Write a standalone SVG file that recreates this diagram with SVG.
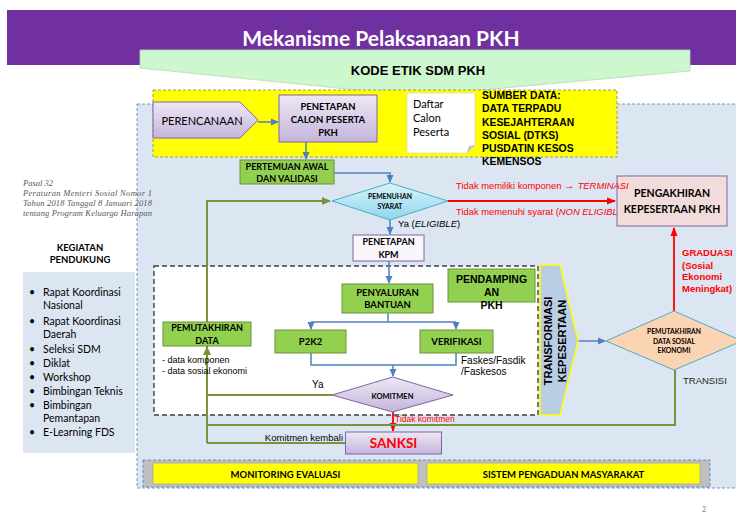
<svg xmlns="http://www.w3.org/2000/svg" width="736" height="515" viewBox="0 0 736 515">
<style>
.c{font-family:Lato,"Open Sans",sans-serif}
.a{font-family:"Liberation Sans",Arial,sans-serif}
.s{font-family:"Liberation Serif","Times New Roman",serif}
.b{font-weight:bold}
.m{text-anchor:middle}
.gbox{fill:#92d050;stroke:#6f8f3a;stroke-width:1}
.lav{fill:url(#lav);stroke:#8064a2;stroke-width:1}
.blue{fill:none;stroke:#4f81bd;stroke-width:1.5}
.grn{fill:none;stroke:#77933c;stroke-width:2}
.red{fill:none;stroke:#ff0000;stroke-width:1.8}
</style>
<defs>
<linearGradient id="lav" x1="0" y1="0" x2="0" y2="1"><stop offset="0" stop-color="#eee8f5"/><stop offset="1" stop-color="#c4b4dc"/></linearGradient>
<linearGradient id="cyan" x1="0" y1="0" x2="0" y2="1"><stop offset="0" stop-color="#d9f4fb"/><stop offset="1" stop-color="#8fd6ec"/></linearGradient>
<marker id="ab" markerUnits="userSpaceOnUse" markerWidth="8" markerHeight="8" refX="7" refY="4" orient="auto"><path d="M0,0.5 L8,4 L0,7.5 z" fill="#4f81bd"/></marker>
<marker id="ar" markerUnits="userSpaceOnUse" markerWidth="9" markerHeight="9" refX="8" refY="4.5" orient="auto"><path d="M0,1 L9,4.5 L0,8 z" fill="#ff0000"/></marker>
<marker id="ag" markerUnits="userSpaceOnUse" markerWidth="9" markerHeight="9" refX="8" refY="4.5" orient="auto"><path d="M0,0.5 L9,4.5 L0,8.5 z" fill="#77933c"/></marker>
</defs>
<rect width="736" height="515" fill="#ffffff"/>
<g id="title">
<rect x="7" y="10" width="729" height="55" fill="#7030a0"/>
<text x="381" y="46" class="c b m" font-size="21" fill="#ffffff">Mekanisme Pelaksanaan PKH</text>
</g>
<g id="kode-etik">
<polygon points="140,50 690,50 690,71 416,96 140,68" fill="#cdf7cd" stroke="#b8d8b8" stroke-width="0.8"/>
<text x="418" y="75" class="a b m" font-size="13" fill="#000000">KODE ETIK SDM PKH</text>
</g>
<g id="panel">
<rect x="137" y="104" width="602" height="384" fill="#dce6f2" stroke="#4f81bd" stroke-width="0.8" stroke-dasharray="3,2"/>
</g>
<g id="sumber-area">
<rect x="153" y="90" width="464" height="67" fill="#ffff00" stroke="#7f7f7f" stroke-width="0.8" stroke-dasharray="3,2"/>
</g>
<g id="inner-box">
<rect x="154" y="266" width="384" height="149" fill="#ffffff" stroke="#404040" stroke-width="1.4" stroke-dasharray="5,3"/>
</g>
<g id="pasal" class="s" font-style="italic" font-size="8.5" fill="#595959">
<text x="23" y="185.5">Pasal 32</text>
<text x="23" y="195.5" textLength="129">Peraturan Menteri Sosial Nomor 1</text>
<text x="23" y="205.5" textLength="129">Tahun 2018 Tanggal  8 Januari 2018</text>
<text x="23" y="215.5" textLength="129">tentang Program Keluarga Harapan</text>
</g>
<g id="kegiatan">
<text x="80" y="250.5" class="c b m" font-size="9.5" fill="#000">KEGIATAN</text>
<text x="80" y="262.5" class="c b m" font-size="9.5" fill="#000">PENDUKUNG</text>
<rect x="23" y="272" width="112" height="181" fill="#dce6f2"/>
<g class="c" font-size="10.5" fill="#000">
<text x="29" y="295.5">•</text><text x="43" y="295.5">Rapat Koordinasi</text>
<text x="43" y="309">Nasional</text>
<text x="29" y="324.5">•</text><text x="43" y="324.5">Rapat Koordinasi</text>
<text x="43" y="337.5">Daerah</text>
<text x="29" y="352.5">•</text><text x="43" y="352.5">Seleksi SDM</text>
<text x="29" y="366.5">•</text><text x="43" y="366.5">Diklat</text>
<text x="29" y="380.5">•</text><text x="43" y="380.5">Workshop</text>
<text x="29" y="394.5">•</text><text x="43" y="394.5">Bimbingan Teknis</text>
<text x="29" y="409">•</text><text x="43" y="409">Bimbingan</text>
<text x="43" y="422">Pemantapan</text>
<text x="29" y="436">•</text><text x="43" y="436">E-Learning FDS</text>
</g>
</g>
<g id="connectors">
<path class="blue" d="M258,122 H278" marker-end="url(#ab)"/>
<path class="blue" d="M306,142 V159" marker-end="url(#ab)"/>
<path class="blue" d="M334,173 H390 V182" marker-end="url(#ab)"/>
<path class="blue" d="M390,220 V234" marker-end="url(#ab)"/>
<path class="blue" d="M389,261 V283" marker-end="url(#ab)"/>
<path class="blue" d="M388,313 V322"/>
<path class="blue" d="M311,322 H456"/>
<path class="blue" d="M311,322 V329" marker-end="url(#ab)"/>
<path class="blue" d="M456,322 V329" marker-end="url(#ab)"/>
<path class="blue" d="M311,353 V365 H456 V353"/>
<path class="blue" d="M393,365 V376" marker-end="url(#ab)"/>
<path class="blue" d="M578,341 H605" marker-end="url(#ab)"/>
<path class="red" d="M448,201 H615" marker-end="url(#ar)"/>
<path class="red" d="M674,311 V228" marker-end="url(#ar)"/>
<path class="red" d="M393,412 V431" marker-end="url(#ar)"/>
<path class="grn" d="M207,443 V201 H330" marker-end="url(#ag)"/>
<path class="grn" d="M207,380 V347" marker-end="url(#ag)"/>
<path class="grn" d="M332,395 H207"/>
<path class="grn" d="M675,370 V425 H207"/>
<path class="grn" d="M345,443 H207"/>
</g>
<g id="perencanaan">
<polygon class="lav" points="153,102 240,102 258,120 240,138 153,138"/>
<text x="202" y="125" class="c m" font-size="11" fill="#000">PERENCANAAN</text>
</g>
<g id="penetapan-calon">
<rect class="lav" x="279" y="95" width="98" height="47"/>
<text x="328" y="109.5" class="c b m" font-size="9.5" fill="#000">PENETAPAN</text>
<text x="328" y="122.5" class="c b m" font-size="9.5" fill="#000">CALON PESERTA</text>
<text x="328" y="135.5" class="c b m" font-size="9.5" fill="#000">PKH</text>
</g>
<g id="daftar">
<path d="M407,93 H475 V145 L467,153 H407 Z" fill="#ffffff" stroke="#d0d0d0" stroke-width="0.6"/>
<path d="M475,145 L467,153 L469,146 Z" fill="#bfbfbf"/>
<g class="c" font-size="11" fill="#000">
<text x="413" y="107.5">Daftar</text>
<text x="413" y="121.5">Calon</text>
<text x="413" y="135.5">Peserta</text>
</g>
</g>
<g id="sumber-data">
<g class="a b" font-size="10.4" fill="#000">
<text x="482" y="99">SUMBER DATA:</text>
<text x="482" y="112">DATA TERPADU</text>
<text x="482" y="125.5">KESEJAHTERAAN</text>
<text x="482" y="138.5">SOSIAL (DTKS)</text>
<text x="482" y="152">PUSDATIN KESOS</text>
<text x="482" y="165">KEMENSOS</text>
</g>
</g>
<g id="pertemuan">
<rect class="gbox" x="240" y="160" width="94" height="24"/>
<text x="287" y="170" class="c b m" font-size="9" fill="#000">PERTEMUAN AWAL</text>
<text x="287" y="182" class="c b m" font-size="9" fill="#000">DAN VALIDASI</text>
</g>
<g id="pemenuhan">
<polygon points="390,183 448,201 390,220 332,201" fill="url(#cyan)" stroke="#4bacc6" stroke-width="1"/>
<text x="390" y="198.5" class="c b m" font-size="6.8" fill="#000">PEMENUHAN</text>
<text x="390" y="208.5" class="c b m" font-size="6.8" fill="#000">SYARAT</text>
</g>
<g id="label-ya" class="a" font-size="9.5">
<text x="398" y="226.5" fill="#000">Ya (<tspan font-style="italic">ELIGIBLE</tspan>)</text>
<text x="456" y="215" fill="#ff0000" font-size="9.4">Tidak memenuhi syarat (<tspan font-style="italic">NON ELIGIBL</tspan></text>
</g>
<g id="pengakhiran">
<rect x="617" y="176" width="110" height="50" fill="#f2dcdb" stroke="#8064a2" stroke-width="1"/>
<text x="672" y="197" class="c b m" font-size="10.5" fill="#000">PENGAKHIRAN</text>
<text x="672" y="213" class="c b m" font-size="10.5" fill="#000">KEPESERTAAN PKH</text>
</g>
<g id="label-terminasi" class="a" font-size="9.4">
<text x="456" y="189" fill="#ff0000">Tidak memiliki komponen <tspan font-weight="bold" font-size="11">→</tspan> <tspan font-style="italic">TERMINASI</tspan></text>
</g>
<g id="graduasi" class="a b" font-size="9.5" fill="#ff0000">
<text x="682" y="256">GRADUASI</text>
<text x="682" y="268.5">(Sosial</text>
<text x="682" y="280">Ekonomi</text>
<text x="682" y="291.5">Meningkat)</text>
</g>
<g id="penetapan-kpm">
<rect x="353" y="235" width="71" height="26" fill="#f9f7fc" stroke="#8064a2" stroke-width="1"/>
<text x="388.5" y="245" class="c b m" font-size="9" fill="#000">PENETAPAN</text>
<text x="388.5" y="258" class="c b m" font-size="9" fill="#000">KPM</text>
</g>
<g id="penyaluran">
<rect class="gbox" x="342" y="284" width="91" height="29"/>
<text x="387.5" y="295.5" class="c b m" font-size="9.5" fill="#000">PENYALURAN</text>
<text x="387.5" y="307.5" class="c b m" font-size="9.5" fill="#000">BANTUAN</text>
</g>
<g id="pendampingan">
<rect class="gbox" x="448" y="269" width="87" height="33"/>
<text x="491.5" y="283" class="a b m" font-size="10.5" fill="#000">PENDAMPING</text>
<text x="491.5" y="296" class="a b m" font-size="10.5" fill="#000">AN</text>
<text x="491.5" y="309" class="a b m" font-size="10.5" fill="#000">PKH</text>
</g>
<g id="p2k2">
<rect class="gbox" x="275" y="330" width="71" height="23"/>
<text x="310.5" y="345" class="c b m" font-size="9.5" fill="#000">P2K2</text>
</g>
<g id="verifikasi">
<rect class="gbox" x="420" y="330" width="73" height="23"/>
<text x="456.5" y="345" class="c b m" font-size="9.5" fill="#000">VERIFIKASI</text>
</g>
<g id="faskes" class="a" font-size="10" fill="#000">
<text x="461" y="363.5">Faskes/Fasdik</text>
<text x="461" y="375">/Faskesos</text>
</g>
<g id="pemutakhiran-data">
<rect class="gbox" x="163" y="322" width="88" height="24"/>
<text x="207" y="330.5" class="c b m" font-size="9" fill="#000">PEMUTAKHIRAN</text>
<text x="207" y="344" class="c b m" font-size="9" fill="#000">DATA</text>
<g class="a" font-size="9" fill="#000">
<text x="162" y="363">- data komponen</text>
<text x="162" y="374">- data sosial ekonomi</text>
</g>
</g>
<g id="komitmen">
<polygon points="392.5,377 453,395 392.5,412 332,395" fill="url(#lav)" stroke="#8064a2" stroke-width="1"/>
<text x="392.5" y="398.5" class="c b m" font-size="7.5" fill="#000">KOMITMEN</text>
<text x="312" y="388" class="a" font-size="10" fill="#000">Ya</text>
<text x="395" y="422" class="a" font-size="8.5" fill="#ff0000">Tidak komitmen</text>
</g>
<g id="sanksi">
<rect class="lav" x="345.5" y="432" width="96" height="22"/>
<text x="393.5" y="448" class="c b m" font-size="13.5" fill="#ff0000">SANKSI</text>
<text x="343" y="440.5" class="a" font-size="9.5" fill="#000" text-anchor="end">Komitmen kembali</text>
</g>
<g id="transformasi">
<polygon points="540,265 560,265 578,341 560,415 540,415" fill="#b9cde5" stroke="#ffff00" stroke-width="1.5"/>
<text transform="translate(552,341) rotate(-90)" class="a b m" font-size="11" fill="#000">TRANSFORMASI</text>
<text transform="translate(565.5,341) rotate(-90)" class="a b m" font-size="11" fill="#000">KEPESERTAAN</text>
</g>
<g id="pemutakhiran-sosial">
<polygon points="674,311 742,341 674,370 606,341" fill="#fbd4b4" stroke="#4bacc6" stroke-width="1"/>
<text x="674" y="333.5" class="c b m" font-size="6.8" fill="#000">PEMUTAKHIRAN</text>
<text x="674" y="343.5" class="c b m" font-size="6.8" fill="#000">DATA SOSIAL</text>
<text x="674" y="353" class="c b m" font-size="6.8" fill="#000">EKONOMI</text>
<text x="683" y="384" class="a" font-size="9.5" fill="#262626">TRANSISI</text>
</g>
<g id="bottom-row">
<rect x="143" y="460" width="567" height="27" fill="#bfbfbf" stroke="#4f81bd" stroke-width="0.8" stroke-dasharray="3,2"/>
<rect x="153" y="463" width="265" height="21" fill="#ffff00" stroke="#a6a6a6" stroke-width="0.8"/>
<text x="285.5" y="477.5" class="c b m" font-size="9.5" fill="#000">MONITORING EVALUASI</text>
<rect x="427" y="463" width="273" height="21" fill="#ffff00" stroke="#a6a6a6" stroke-width="0.8"/>
<text x="563.5" y="477.5" class="c b m" font-size="9.5" fill="#000">SISTEM PENGADUAN MASYARAKAT</text>
</g>
<text x="702" y="512" class="c" font-size="7" fill="#7f7f7f">2</text>
</svg>
